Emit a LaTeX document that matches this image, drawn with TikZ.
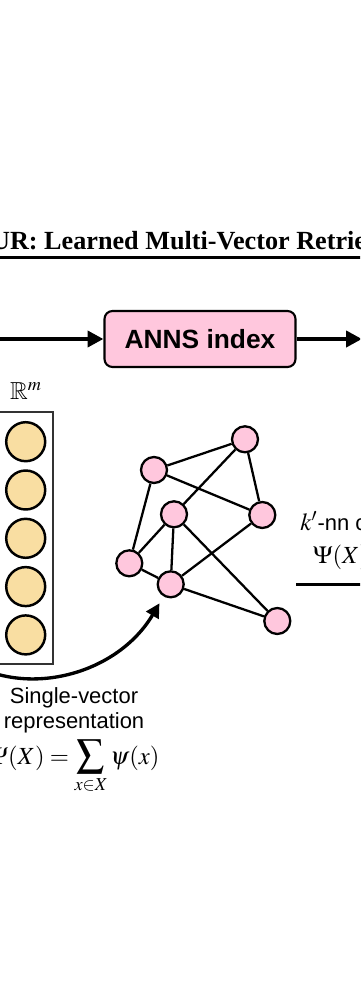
\documentclass[tikz,border=0pt]{standalone}
\usepackage{mathptmx}
\usepackage{amsmath, amssymb}
\usepackage[no-math]{fontspec}
\setmainfont{Liberation Serif}
\setsansfont{Liberation Sans}
\usetikzlibrary{arrows.meta, positioning}
\definecolor{graphpink}{RGB}{255, 199, 221}
\definecolor{vecsand}{RGB}{249, 222, 162}
\newcommand{\mathsz}{\fontsize{14}{16}\selectfont}

\begin{document}
\begin{tikzpicture}[x=0.02cm, y=-0.02cm,
  vecdot/.style={circle, draw, line width=1.4pt, fill=vecsand, minimum size=0.78cm, inner sep=0pt},
  gnode/.style={circle, draw, line width=1.3pt, fill=graphpink, minimum size=0.52cm, inner sep=0pt},
  flow/.style={line width=2.3pt, -{Triangle[length=9pt, width=9pt]}}]
  \useasboundingbox (0,0) rectangle (360,1000);
  \clip (0,0) rectangle (360,1000);

  \node[anchor=base west, inner sep=0pt, font=\fontsize{14.9}{17}\selectfont\bfseries] (title) at (-9.2,250) {UR: Learned Multi-Vector Retrie};
  \coordinate (ruleL) at (-10,257.7);
  \coordinate (ruleR) at (370,257.7);
  \draw[line width=1.6pt] (ruleL) -- (ruleR);

  \node[draw, line width=1.2pt, fill=graphpink, rounded corners=4.5pt, minimum width=3.82cm, minimum height=1.12cm, inner sep=0pt, font=\fontsize{15}{18}\selectfont\sffamily\bfseries] (anns) at (200,339) {ANNS index};
  \coordinate (feedin) at (-10,339);
  \coordinate (feedout) at (362,339);
  \draw[flow] (feedin) -- (anns.west);
  \draw[flow] (anns.east) -- (feedout);

  \node[anchor=base, inner sep=0pt, font=\mathsz] (rspace) at (26,399) {$\mathbb{R}^m$};
  \node[draw=black!80, line width=1.1pt, minimum width=1.1cm, minimum height=5.04cm] (vecbox) at (25.7,538.3) {};
  \foreach \i in {1,...,5}
    \node[vecdot] (dot\i) at (25.7, 393.4+48.3*\i) {};

  \node[gnode] (g1) at (245,439.3) {};
  \node[gnode] (g2) at (154,470) {};
  \node[gnode] (g3) at (174,514.3) {};
  \node[gnode] (g4) at (262.3,515) {};
  \node[gnode] (g5) at (129.3,563.3) {};
  \node[gnode] (g6) at (170.7,584.3) {};
  \node[gnode] (g7) at (277.3,621) {};
  \foreach \a/\b in {g2/g1, g2/g4, g2/g5, g3/g1, g1/g4, g3/g5, g3/g6, g3/g7, g4/g6, g5/g6, g6/g7}
    \draw[line width=1.3pt] (\a) -- (\b);

  \coordinate (curvestart) at (-20,668);
  \draw[line width=1.9pt, -{Triangle[length=8pt, width=8pt]}, shorten >=4.5pt] (curvestart) .. controls (40,695) and (120,670) .. (g6);

  \node[inner sep=0pt, align=center, font=\fontsize{12.5}{14.2}\selectfont\sffamily] (svlabel) at (74,710) {Single-vector\\representation};
  \node[anchor=base, inner sep=0pt, font=\mathsz] (psieq) at (74,764) {$\displaystyle \Psi(X) = \mathop{\scalebox{1.12}{$\displaystyle\sum$}}_{\rule{0pt}{7pt}x \in X} \psi(x)$};

  \node[anchor=base west, inner sep=0pt, font=\fontsize{12.5}{14.2}\selectfont\sffamily] (knn) at (300,530) {{\mathsz$k'$}-nn c};
  \node[anchor=base west, inner sep=0pt, font=\mathsz] (knnq) at (312.7,563) {$\Psi(X)$};
  \coordinate (candin) at (296,584.3);
  \coordinate (candout) at (430,584.3);
  \draw[line width=1.5pt, -{Triangle[length=9pt, width=9pt]}] (candin) -- (candout);
\end{tikzpicture}
\end{document}
